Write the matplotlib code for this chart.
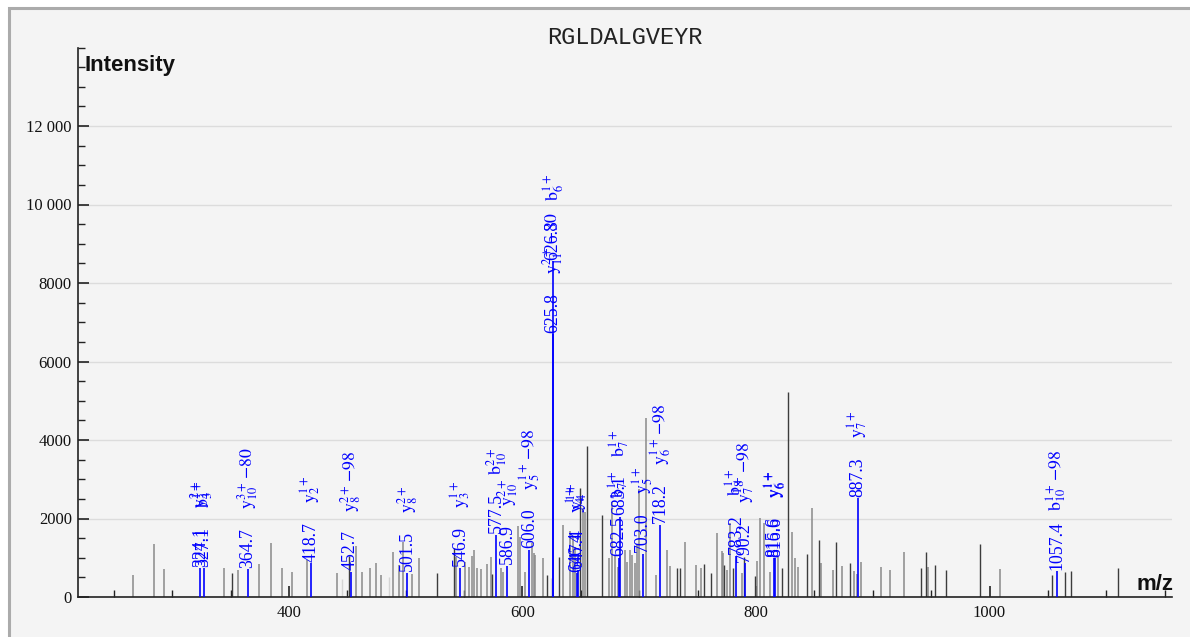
import matplotlib
matplotlib.use("Agg")
import matplotlib.pyplot as plt
from matplotlib.patches import Rectangle
from matplotlib.ticker import MultipleLocator, FixedLocator, FuncFormatter

plt.rcParams['mathtext.fontset'] = 'stix'

title = "RGLDALGVEYR"

# unmatched peaks (m/z, intensity), grouped by shade
gray_mz = [266.4, 284.4, 292.9, 344.3, 356.6, 374.6, 384.3, 393.7, 402.3, 415.7, 441.4,
           457.4, 462.3, 469.4, 474.4, 478.5, 489.5, 494.4, 497.6, 505.6, 511.2, 543.0,
           550.9, 554.4, 556.5, 558.5, 561.3, 564.7, 569.3, 572.8, 581.3, 583.0, 596.4,
           597.9, 601.9, 608.4, 609.9, 610.7, 617.8, 634.5, 640.7, 643.0, 645.0, 652.1,
           653.5, 674.1, 676.4, 679.2, 681.5, 687.8, 689.9, 691.8, 694.1, 696.4, 698.4,
           699.6, 705.6, 714.1, 724.0, 726.6, 739.2, 748.3, 752.9, 766.6, 770.6, 772.0,
           774.9, 777.7, 788.3, 800.5, 803.4, 806.9, 811.7, 819.1, 830.6, 833.4, 835.7,
           847.7, 855.4, 865.7, 873.9, 883.7, 886.5, 889.6, 906.8, 914.7, 926.7, 947.6,
           1009.3]
gray_int = [560, 1350, 705, 730, 688, 850, 1384, 730, 625, 943, 603,
            1290, 645, 730, 858, 550, 1155, 815, 1410, 580, 990, 1028,
            900, 773, 1045, 1198, 730, 705, 832, 1028, 747, 645, 1809,
            1537, 645, 1367, 1113, 1070, 985, 1835, 1690, 1537, 1282, 2259,
            2174, 985, 2429, 1070, 773, 1198, 900, 1198, 1070, 858, 1350,
            2750, 4553, 560, 1198, 790, 1393, 815, 747, 1622, 1180, 1130,
            688, 1894, 603, 917, 2021, 1877, 645, 1028, 1665, 1002, 773,
            2276, 875, 688, 790, 671, 577, 900, 773, 688, 1147, 773,
            713]
dark_mz = [350.9, 451.8, 527.0, 541.6, 574.2, 620.7, 631.6, 649.3, 655.0, 667.8,
           732.6, 735.2, 755.5, 761.7, 772.9, 780.6, 789.7, 799.1, 822.0, 827.7,
           843.9, 854.2, 868.5, 880.8, 941.0, 945.3, 953.0, 962.7, 992.1, 1053.8,
           1065.0, 1070.1, 1109.8]
dark_int = [603, 1045, 603, 1240, 577, 560, 1028, 2769, 3847, 2089,
            730, 730, 840, 603, 815, 730, 1028, 543, 730, 5232,
            1096, 1452, 1410, 875, 747, 1155, 815, 680, 1350, 560,
            628, 662, 747]
light_mz = [445.7, 485.5, 624.1]
light_int = [450, 500, 475]

# annotated (matched) peaks
match_mz = [324.1, 327.1, 364.7, 418.7, 452.7, 501.5, 546.9, 577.5, 586.9, 606.0,
            625.8, 626.3, 646.4, 647.4, 682.5, 683.1, 703.0, 718.2, 783.2, 790.2,
            815.6, 816.6, 887.3, 1057.4]
match_int = [730, 730, 710, 860, 640, 620, 750, 1580, 790, 1200,
             6700, 8550, 600, 680, 1000, 2050, 1100, 1835, 1050, 860,
             990, 990, 2510, 650]
match_ion = [r"$\mathrm{y}_{4}^{2+}$", r"$\mathrm{b}_{3}^{1+}$",
             r"$\mathrm{y}_{10}^{3+}\,{-}80$", r"$\mathrm{y}_{2}^{1+}$",
             r"$\mathrm{y}_{8}^{2+}\,{-}98$", r"$\mathrm{y}_{8}^{2+}$",
             r"$\mathrm{y}_{3}^{1+}$", r"$\mathrm{b}_{10}^{2+}$",
             r"$\mathrm{y}_{10}^{2+}$", r"$\mathrm{y}_{5}^{1+}\,{-}98$",
             r"$\mathrm{y}_{11}^{2+}\,{-}80$", r"$\mathrm{b}_{6}^{1+}$",
             r"$\mathrm{y}_{4}^{1+}$", r"$\mathrm{y}_{4}^{1+}$",
             r"$\mathrm{b}_{7}^{1+}$", r"$\mathrm{b}_{7}^{1+}$",
             r"$\mathrm{y}_{5}^{1+}$", r"$\mathrm{y}_{6}^{1+}\,{-}98$",
             r"$\mathrm{b}_{8}^{1+}$", r"$\mathrm{y}_{7}^{1+}\,{-}98$",
             r"$\mathrm{y}_{6}^{1+}$", r"$\mathrm{y}_{6}^{1+}$",
             r"$\mathrm{y}_{7}^{1+}$", r"$\mathrm{b}_{10}^{1+}\,{-}98$"]

y_ticks = [0, 2000, 4000, 6000, 8000, 10000, 12000]
x_ticks = [400, 600, 800, 1000]

W, H = 1190, 637
fig = plt.figure(figsize=(W / 100, H / 100), dpi=100, facecolor="white")
fig.patches.append(Rectangle((9 / W, -0.1), 1.2, (H - 7.5) / H + 0.1, transform=fig.transFigure,
                             facecolor="#f4f4f4", edgecolor="#ababab", linewidth=2.2, zorder=-10))

ax = fig.add_axes([78 / W, 1 - 597 / H, (1172 - 78) / W, (597 - 47.5) / H])
ax.set_facecolor("none")
ax.set_xlim(219.3, 1156.3)
ax.set_ylim(0, 14000)

for s in ["top", "right"]:
    ax.spines[s].set_visible(False)
for s in ["left", "bottom"]:
    ax.spines[s].set_color("#222222")
    ax.spines[s].set_linewidth(1.2)

ax.vlines(gray_mz, 0, gray_int, colors="#8a8a8a", linewidth=1.1, zorder=2)
ax.vlines(dark_mz, 0, dark_int, colors="#3c3c3c", linewidth=1.0, zorder=2)
ax.vlines(light_mz, 0, light_int, colors="#d4d4d4", linewidth=1.0, zorder=2)
ax.vlines(match_mz, 0, match_int, colors="#0000ff", linewidth=1.2, zorder=3)

for mz, inten, ion in zip(match_mz, match_int, match_ion):
    ax.annotate(f"{mz:.1f}", xy=(mz, inten), xytext=(0, 1.5), textcoords="offset pixels",
                rotation=90, ha="center", va="bottom", color="#0000ff",
                fontsize=12.8, family="Liberation Serif", zorder=4)
    ax.annotate(ion, xy=(mz, inten), xytext=(0, 60), textcoords="offset pixels",
                rotation=90, ha="center", va="bottom", color="#0000ff",
                fontsize=12.8, zorder=4)

ax.yaxis.set_major_locator(FixedLocator(y_ticks))
ax.yaxis.set_minor_locator(MultipleLocator(500))
ax.xaxis.set_major_locator(FixedLocator(x_ticks))
ax.xaxis.set_minor_locator(MultipleLocator(50))


def fmt(v, pos):
    v = int(round(v))
    if v >= 10000:
        return f"{v // 1000} {v % 1000:03d}"
    return f"{v}"


ax.yaxis.set_major_formatter(FuncFormatter(fmt))
ax.xaxis.set_major_formatter(FuncFormatter(fmt))
ax.tick_params(which="major", direction="in", length=8, width=1.2, color="#222222",
               labelsize=12, pad=4.5)
ax.tick_params(which="minor", direction="in", length=5, width=1.0, color="#222222")
ax.tick_params(axis="x", which="major", pad=6)
for lab in ax.get_xticklabels() + ax.get_yticklabels():
    lab.set_family("Liberation Serif")
    lab.set_color("#111111")

ax.yaxis.grid(True, which="major", color="#dcdcdc", linewidth=1.0, zorder=0)
ax.set_axisbelow(True)

fig.text(85 / W, 1 - 66 / H, "Intensity", family="Liberation Sans", fontweight="bold",
         fontsize=16, ha="left", va="center", color="#111111")
fig.text(1173 / W, 1 - 584 / H, "m/z", family="Liberation Sans", fontweight="bold",
         fontsize=16, ha="right", va="center", color="#111111")
fig.text(625 / W, 1 - 37 / H, title, family="Liberation Mono", fontsize=17,
         ha="center", va="center", color="#222222")

fig.savefig("out.png", dpi=100, facecolor=fig.get_facecolor())
